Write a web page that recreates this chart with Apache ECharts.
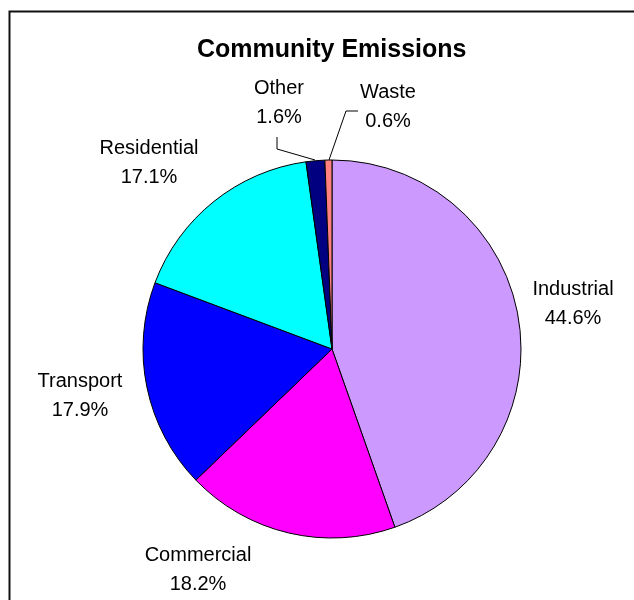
<!DOCTYPE html>
<html>
<head>
<meta charset="UTF-8">
<title>Community Emissions</title>
<script src="https://cdn.jsdelivr.net/npm/echarts@6/dist/echarts.min.js"></script>
</head>
<body style="margin:0;background:#fff;">
	<div id="container" style="width:634px;height:600px;"></div>
	<script type="text/javascript">

	// sectors, clockwise from 12 o'clock
	var sectors = ['Industrial', 'Commercial', 'Transport', 'Residential', 'Other', 'Waste'];
	var shares = [44.6, 18.2, 17.9, 17.1, 1.6, 0.6];   // percent
	var colors = ['#CC99FF', '#FF00FF', '#0000FF', '#00FFFF', '#000080', '#FF8080'];

	// where each label sits (text centre)
	var labelPos = {
		Industrial: [573, 304],
		Commercial: [198, 570],
		Transport: [80, 396],
		Residential: [149, 163],
		Other: [279, 103],
		Waste: [388, 107]
	};
	// elbow leader lines for the two thin slices
	var leaders = {
		Other: [[315, 160], [277, 149], [277, 137]],
		Waste: [[329, 160], [346, 111], [358, 111]]
	};

	var pieData = [];
	for (var i = 0; i < sectors.length; i++) {
		pieData.push({
			name: sectors[i],
			value: shares[i],
			itemStyle: { color: colors[i] },
			labelLine: { show: !!leaders[sectors[i]] }
		});
	}

	var dom = document.getElementById("container");
	var myChart = echarts.init(dom);
	var option = {
		backgroundColor: '#fff',
		animation: false,
		title: {
			text: 'Community Emissions',
			left: 192,
			top: 33,
			textStyle: { fontFamily: 'Liberation Sans, Arial', fontSize: 25, fontWeight: 'bold', color: '#000' }
		},
		graphic: [{
			type: 'rect',
			shape: { x: 9.5, y: 11.5, width: 800, height: 800 },
			style: { fill: 'none', stroke: '#111', lineWidth: 2 },
			silent: true
		}],
		series: [{
			type: 'pie',
			radius: 189,
			center: [332, 349],
			startAngle: 90,
			clockwise: true,
			avoidLabelOverlap: false,
			itemStyle: { borderColor: '#000', borderWidth: 1 },
			label: {
				show: true,
				position: 'outside',
				formatter: '{b}\n{c}%',
				fontFamily: 'Liberation Sans, Arial',
				fontSize: 20,
				lineHeight: 29,
				color: '#000',
				align: 'center'
			},
			labelLine: { show: false, lineStyle: { color: '#000', width: 1 } },
			labelLayout: function (params) {
				var name = sectors[params.dataIndex];
				var p = labelPos[name];
				var out = { x: p[0], y: p[1], align: 'center', verticalAlign: 'middle' };
				if (leaders[name]) out.labelLinePoints = leaders[name];
				return out;
			},
			data: pieData
		}]
	};
	myChart.setOption(option, true);
	</script>
</body>
</html>
